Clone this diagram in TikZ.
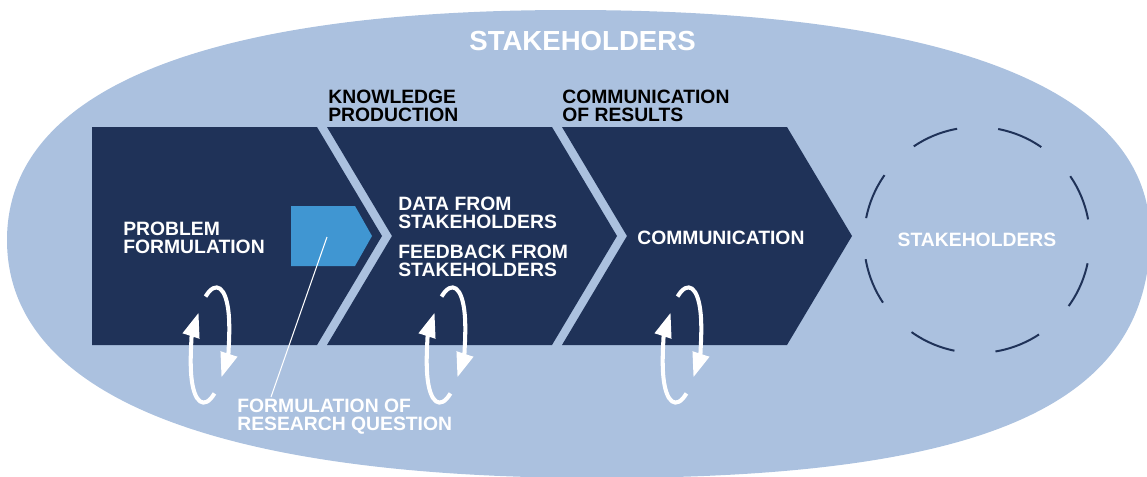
\documentclass[tikz,border=0pt]{standalone}
\usepackage{fontspec}
\setmainfont{Liberation Sans}
\usetikzlibrary{positioning,arrows.meta}
\definecolor{skyfill}{HTML}{ABC1DF}
\definecolor{navy}{HTML}{1F3258}
\definecolor{qblue}{HTML}{4096D2}
\newcommand{\labfont}{\fontsize{11}{10.4}\selectfont\bfseries}
\tikzstyle{phase}=[fill=navy]
\tikzstyle{txt}=[text=white, font=\labfont, align=left, anchor=west, inner sep=0pt]
\tikzstyle{head}=[txt, text=black]
\tikzstyle{cyc}=[draw=white, line width=2.3pt, -{Triangle[length=14pt, width=9.5pt]}]

\begin{document}
\begin{tikzpicture}[x=0.02cm, y=0.02cm]
	\useasboundingbox (0,0) rectangle (1147,-477);

	\begin{scope}
	\clip (0,0) rectangle (1147,-477);
	\fill[skyfill] (7,-240) .. controls (7,-90) and (204,-10) .. (570,-10)
		.. controls (947,-10) and (1150,-89) .. (1150,-235)
		.. controls (1150,-405) and (985,-478) .. (600,-478)
		.. controls (214,-478) and (7,-395) .. (7,-240) -- cycle;
	\end{scope}

	% the three phases
	\fill[phase] (92,-127) -- (317,-127) -- (382,-236) -- (317,-345) -- (92,-345) -- cycle;
	\foreach \dx in {0,235}
		\fill[phase, shift={(\dx,0)}] (327,-127) -- (552,-127) -- (617,-236) -- (552,-345)
			-- (327,-345) -- (392,-236) -- cycle;

	\fill[qblue] (291,-206) -- (355,-206) -- (372,-236) -- (355,-266) -- (291,-266) -- cycle;

	\node[txt, anchor=center, font=\fontsize{15.7}{18}\selectfont\bfseries] (stk) at (582.5,-41) {STAKEHOLDERS};
	\node[head] (know) at (328,-105.5) {KNOWLEDGE\\PRODUCTION};
	\node[head] (comres) at (562,-105.5) {COMMUNICATION\\OF RESULTS};

	\node[txt] (prob) at (123,-238) {PROBLEM\\FORMULATION};
	\node[txt] (data) at (398,-213) {DATA FROM\\STAKEHOLDERS};
	\node[txt] (feed) at (398,-261) {FEEDBACK FROM\\STAKEHOLDERS};
	\node[txt] (comm) at (637,-238) {COMMUNICATION};
	\node[txt] (rqlab) at (237,-416.5) {FORMULATION OF\\RESEARCH QUESTION};

	\node[circle, draw=navy, line width=1.13pt, dash pattern=on 26.8pt off 23.5pt, dash phase=38.5pt,
		minimum size=4.52cm, inner sep=0pt, text=white, font=\labfont] (ext) at (977,-240) {STAKEHOLDERS};

	\coordinate (rq) at (327,-237);
	\coordinate (rqfoot) at (271,-397);
	\draw[white, line width=0.6pt] (rq) -- (rqfoot);

	\foreach \i/\cx in {1/210, 2/446, 3/682} {
		\coordinate (loop\i) at (\cx,-345);
		\begin{scope}[shift={(loop\i)}, rotate=-7]
		\draw[cyc] (125:18 and 58) arc[start angle=125, end angle=-32, x radius=18, y radius=58];
		\draw[cyc] (-55:18 and 58) arc[start angle=-55, end angle=-212, x radius=18, y radius=58];
		\end{scope}
	}
\end{tikzpicture}
\end{document}
